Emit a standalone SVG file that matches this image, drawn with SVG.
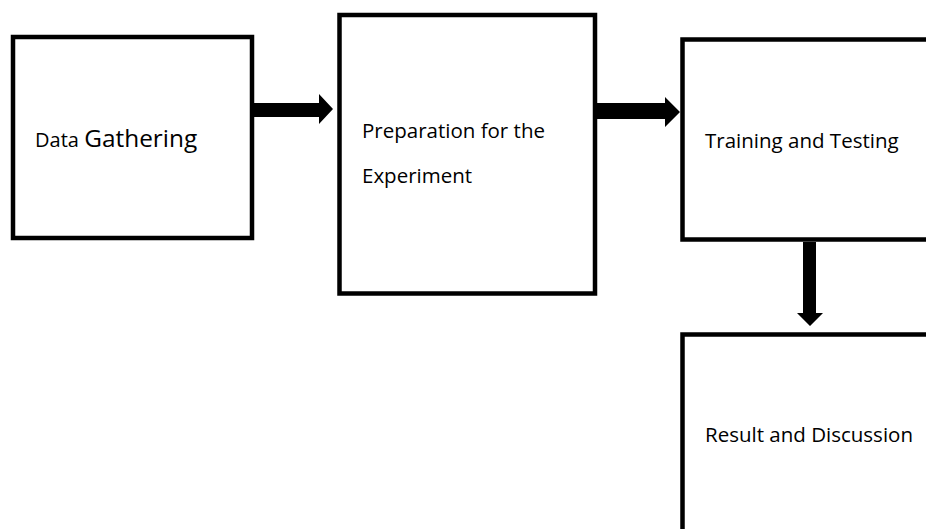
<svg xmlns="http://www.w3.org/2000/svg" width="926" height="529" viewBox="0 0 926 529">
<style>
.box{fill:#fff;stroke:#000;stroke-width:4.5}
.t{font-family:"Open Sans","Liberation Sans",sans-serif;font-size:20.5px;fill:#000}
.arrow{fill:#000;stroke:none}
</style>
<rect width="926" height="529" fill="#fff"/>
<g id="node-data">
<rect class="box" x="13" y="37" width="239" height="201"/>
<text class="t" x="35" y="147"><tspan font-size="20">Data</tspan> <tspan font-size="24.4">Gathering</tspan></text>
</g>
<g id="node-prep">
<rect class="box" x="339.5" y="15" width="255.5" height="278.5"/>
<text class="t" x="362" y="138">Preparation for the</text>
<text class="t" x="362" y="183">Experiment</text>
</g>
<g id="node-train">
<rect class="box" x="682.5" y="39.5" width="260" height="200"/>
<text class="t" x="705" y="148">Training and Testing</text>
</g>
<g id="node-result">
<rect class="box" x="682.5" y="334.5" width="260" height="220"/>
<text class="t" x="705" y="442">Result and Discussion</text>
</g>
<g id="connectors">
<polygon class="arrow" points="254,103 319,103 319,94 333,109 319,124 319,117 254,117"/>
<polygon class="arrow" points="597,103 665,103 665,97 680,112 665,127 665,119 597,119"/>
<polygon class="arrow" points="803,242 816,242 816,313 823,313 810,326 797,313 803,313"/>
</g>
</svg>
